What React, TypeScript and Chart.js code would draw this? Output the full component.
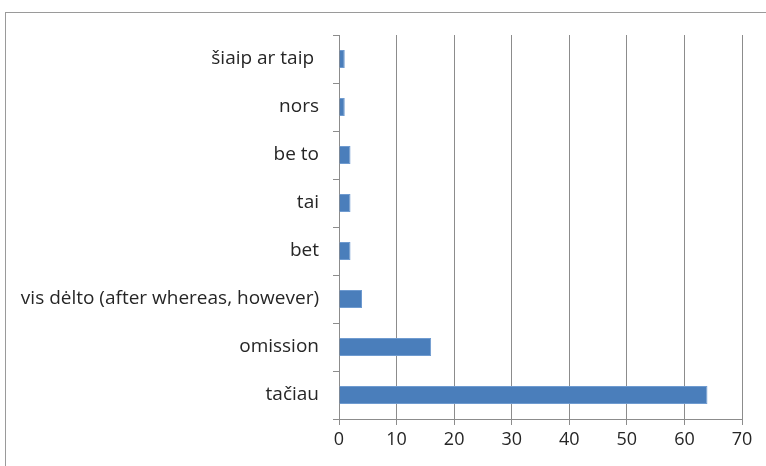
import React, { useEffect, useRef } from "react";
import { Chart, registerables } from "chart.js";

Chart.register(...registerables);

const categories = [
  "šiaip ar taip ",
  "nors",
  "be to",
  "tai",
  "bet",
  "vis dėlto (after whereas, however)",
  "omission",
  "tačiau",
];
const values = [1, 1, 2, 2, 2, 4, 16, 64];
const xTicks = { min: 0, max: 70, step: 10 };

export default function App() {
  const ref = useRef<HTMLCanvasElement | null>(null);
  useEffect(() => {
    if (!ref.current) return;
    const chart = new Chart(ref.current, {
      type: "bar",
      data: {
        labels: categories,
        datasets: [
          {
            data: values,
            backgroundColor: "#4a7ebb",
            borderColor: "#6f9bd0",
            borderWidth: 1,
            barPercentage: 0.375,
            categoryPercentage: 1,
          },
        ],
      },
      options: {
        indexAxis: "y",
        animation: false,
        responsive: false,
        maintainAspectRatio: false,
        layout: { padding: { left: 0, right: 24, top: 35, bottom: 0 } },
        plugins: { legend: { display: false }, tooltip: { enabled: false } },
        scales: {
          x: {
            min: xTicks.min,
            max: xTicks.max,
            ticks: {
              stepSize: xTicks.step,
              color: "#262626",
              font: { family: "'Open Sans', sans-serif", size: 18 },
              padding: 4,
            },
            grid: { color: "#8c8c8c", tickLength: 6, lineWidth: 1 },
            border: { color: "#8c8c8c" },
            afterFit: (s: any) => {
              s.height = 47;
            },
          },
          y: {
            ticks: {
              color: "#262626",
              font: { family: "'Open Sans', sans-serif", size: 19 },
              padding: 14,
            },
            grid: { drawOnChartArea: false, color: "#8c8c8c", tickLength: 6, offset: true },
            border: { color: "#8c8c8c" },
            afterFit: (s: any) => {
              s.width = 339;
            },
          },
        },
      },
    });
    return () => chart.destroy();
  }, []);
  return (
    <div style={{ position: "fixed", left: 0, top: 0, width: 766, height: 466, overflow: "hidden", background: "#fff" }}>
      <div
        style={{
          position: "absolute",
          left: 5,
          top: 12,
          width: 820,
          height: 520,
          border: "1px solid #9a9a9a",
          boxSizing: "border-box",
        }}
      />
      <canvas ref={ref} width={766} height={466} style={{ position: "absolute", left: 0, top: 0 }} />
    </div>
  );
}
